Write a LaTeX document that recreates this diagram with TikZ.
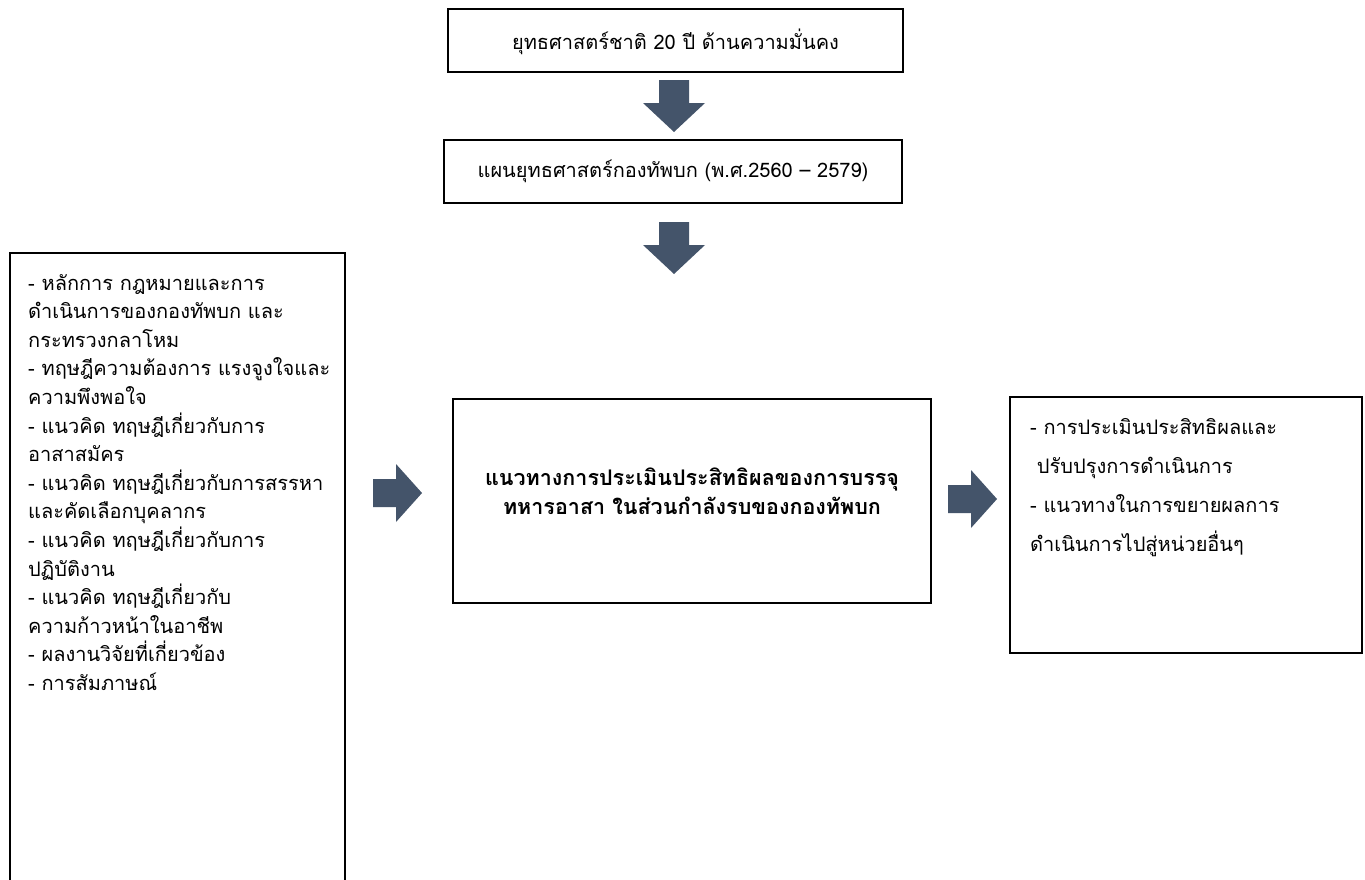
\documentclass[tikz,border=0pt]{standalone}
\usepackage{fontspec}
\newfontfamily\thaifont[Script=Thai]{Loma}
\definecolor{arrowc}{HTML}{44546A}
\tikzset{
  box/.style={draw=black, line width=1.8pt, rectangle, inner sep=0pt},
  txt/.style={font=\thaifont\fontsize{20}{28.6}\selectfont, inner sep=0pt},
  rtxt/.style={font=\thaifont\fontsize{20}{39}\selectfont, inner sep=0pt},
  btxt/.style={font=\thaifont\bfseries\fontsize{21.5}{28.6}\selectfont, inner sep=0pt},
  pics/downarr/.style={code={\fill[arrowc] (-15,-26) -- (15,-26) -- (15,-3) -- (31,-3) -- (0,26) -- (-31,-3) -- (-15,-3) -- cycle;}},
  pics/rightarr/.style={code={\fill[arrowc] (-24.5,-14) -- (-1.5,-14) -- (-1.5,-29) -- (24.5,0) -- (-1.5,29) -- (-1.5,14) -- (-24.5,14) -- cycle;}},
}
\begin{document}
\begin{tikzpicture}[x=1pt,y=-1pt]
\useasboundingbox[fill=white] (0,0) rectangle (1365,879);
% boxes
\node[box, minimum width=455pt, minimum height=63pt] (top) at (675.5,40.5) {};
\node[box, minimum width=458pt, minimum height=63pt] (plan) at (673,171.5) {};
\node[box, minimum width=335pt, minimum height=650pt] (left) at (177.5,578) {};
\node[box, minimum width=478pt, minimum height=204pt] (mid) at (692,501) {};
\node[box, minimum width=352pt, minimum height=256pt] (right) at (1186,525) {};
% texts
\node[txt] (toptxt) at ([yshift=-1pt]top.center) {ยุทธศาสตร์ชาติ 20 ปี ด้านความมั่นคง};
\node[txt] (plantxt) at (plan.center) {แผนยุทธศาสตร์กองทัพบก (พ.ศ.2560 – 2579)};
\node[txt, align=left, anchor=north west] (lefttxt) at (28,274) {%
- หลักการ กฎหมายและการ\\
ดำเนินการของกองทัพบก และ\\
กระทรวงกลาโหม\\
- ทฤษฎีความต้องการ แรงจูงใจและ\\
ความพึงพอใจ\\
- แนวคิด ทฤษฎีเกี่ยวกับการ\\
อาสาสมัคร\\
- แนวคิด ทฤษฎีเกี่ยวกับการสรรหา\\
และคัดเลือกบุคลากร\\
- แนวคิด ทฤษฎีเกี่ยวกับการ\\
ปฏิบัติงาน\\
- แนวคิด ทฤษฎีเกี่ยวกับ\\
ความก้าวหน้าในอาชีพ\\
- ผลงานวิจัยที่เกี่ยวข้อง\\
- การสัมภาษณ์};
\node[btxt, align=center] (midtxt) at (692,491) {แนวทางการประเมินประสิทธิผลของการบรรจุ\\ทหารอาสา ในส่วนกำลังรบของกองทัพบก};
\node[rtxt, align=left, anchor=north west] (righttxt) at (1030,418) {%
- การประเมินประสิทธิผลและ\\
\ ปรับปรุงการดำเนินการ\\
- แนวทางในการขยายผลการ\\
ดำเนินการไปสู่หน่วยอื่นๆ};
% block arrows
\path (674,106) coordinate (a1) pic {downarr};
\path (674,248) coordinate (a2) pic {downarr};
\path (397.5,493) coordinate (a3) pic {rightarr};
\path (972.5,499) coordinate (a4) pic {rightarr};
\end{tikzpicture}
\end{document}
